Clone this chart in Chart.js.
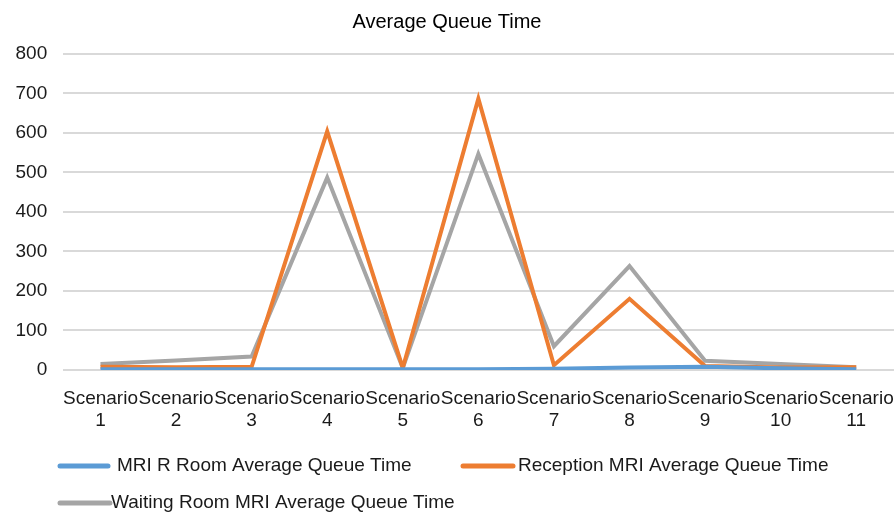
<!DOCTYPE html>
<html>
<head>
<meta charset="utf-8">
<script src="https://cdn.jsdelivr.net/npm/chart.js@4"></script>
<style>
html,body{margin:0;padding:0;background:#fff;}
#wrap{width:894px;height:512px;position:relative;}
</style>
</head>
<body>
<div id="wrap"><canvas id="c" width="894" height="512"></canvas></div>
<script>
const categories = [['Scenario','1'],['Scenario','2'],['Scenario','3'],['Scenario','4'],['Scenario','5'],['Scenario','6'],['Scenario','7'],['Scenario','8'],['Scenario','9'],['Scenario','10'],['Scenario','11']];
const seriesNames = ['MRI R Room Average Queue Time','Reception MRI Average Queue Time','Waiting Room MRI Average Queue Time'];
const mriRoom = [2, 2, 2, 2, 2, 2, 3, 6, 8, 4, 2];
const reception = [8, 7, 8, 604, 5, 687, 12, 180, 10, 6, 7];
const waitingRoom = [15, 24, 34, 487, 5, 547, 60, 263, 23, 15, 7];
const yTicks = [0, 100, 200, 300, 400, 500, 600, 700, 800];

const colors = ['#5b9bd5', '#ed7d31', '#a5a5a5'];
const FONT = "'Liberation Sans', Arial, sans-serif";

const customLegend = {
  id: 'customLegend',
  afterDraw(chart) {
    const ctx = chart.ctx;
    const pos = [
      {lx1: 60, lx2: 108, tx: 117, y: 466},
      {lx1: 463, lx2: 513, tx: 518, y: 466},
      {lx1: 60, lx2: 110, tx: 111, y: 503}
    ];
    ctx.save();
    chart.data.datasets.forEach((ds, i) => {
      const p = pos[i];
      ctx.strokeStyle = ds.borderColor;
      ctx.lineWidth = 5;
      ctx.lineCap = 'round';
      ctx.beginPath();
      ctx.moveTo(p.lx1, p.y);
      ctx.lineTo(p.lx2, p.y);
      ctx.stroke();
      ctx.fillStyle = '#1a1a1a';
      ctx.font = '19px ' + FONT;
      ctx.textBaseline = 'middle';
      ctx.textAlign = 'left';
      ctx.fillText(ds.label, p.tx, p.y);
    });
    ctx.restore();
  }
};

new Chart(document.getElementById('c'), {
  type: 'line',
  data: {
    labels: categories,
    datasets: [
      {label: seriesNames[0], data: mriRoom, borderColor: colors[0], backgroundColor: colors[0]},
      {label: seriesNames[1], data: reception, borderColor: colors[1], backgroundColor: colors[1]},
      {label: seriesNames[2], data: waitingRoom, borderColor: colors[2], backgroundColor: colors[2]}
    ]
  },
  options: {
    responsive: false,
    animation: false,
    devicePixelRatio: 1,
    layout: {padding: {left: 0, right: 0, top: 4, bottom: 80}},
    elements: {
      line: {borderWidth: 4, tension: 0, borderJoinStyle: 'miter'},
      point: {radius: 0, hoverRadius: 0}
    },
    plugins: {
      legend: {display: false},
      tooltip: {enabled: false},
      title: {
        display: true,
        text: 'Average Queue Time',
        color: '#000',
        font: {family: FONT, size: 20, weight: 'normal'},
        padding: {top: 6, bottom: 20}
      }
    },
    scales: {
      x: {
        offset: true,
        grid: {display: true, drawOnChartArea: false, drawTicks: true, tickLength: 18, color: 'rgba(0,0,0,0)'},
        border: {display: false},
        ticks: {
          color: '#1a1a1a',
          font: {family: FONT, size: 19, lineHeight: 1.16},
          maxRotation: 0,
          minRotation: 0,
          autoSkip: false,
          padding: 0
        }
      },
      y: {
        min: 0,
        max: 800,
        afterBuildTicks(axis) { axis.ticks = yTicks.map(v => ({value: v})); },
        grid: {color: '#d9d9d9', lineWidth: 2, drawTicks: false},
        border: {display: false},
        ticks: {
          color: '#1a1a1a',
          font: {family: FONT, size: 19},
          padding: 15.5
        }
      }
    }
  },
  plugins: [customLegend]
});
</script>
</body>
</html>
